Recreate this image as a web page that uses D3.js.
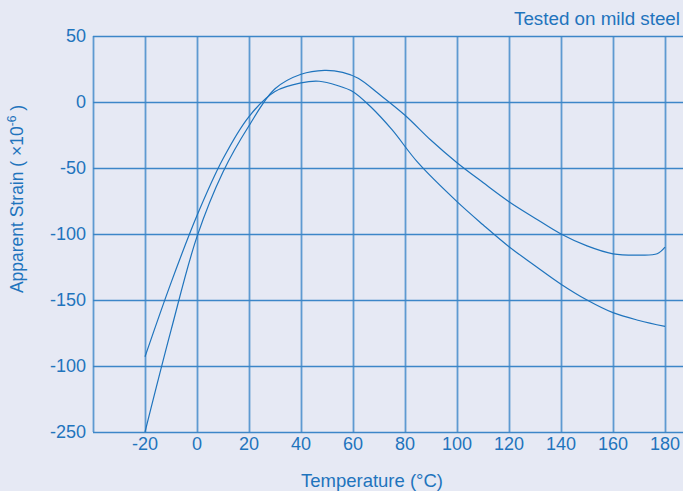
<!DOCTYPE html>
<meta charset="utf-8">
<style>
html, body { margin: 0; padding: 0; background: #e6e9f4; }
svg { display: block; font-family: "Liberation Sans", Arial, sans-serif; }
</style>
<svg width="683" height="491"></svg>
<script src="https://d3js.org/d3.v7.min.js"></script>
<script>
// values
var xTicks = [-20, 0, 20, 40, 60, 80, 100, 120, 140, 160, 180]
var yTicks = [50, 0, -50, -100, -150, -200, -250]
// the original prints "-100" twice, keep it
var yTickLabels = ["50", "0", "-50", "-100", "-150", "-100", "-250"]

var curveATemp   = [-20, -10, 0, 10, 20, 30, 40, 47, 54, 60, 67, 75, 85, 100, 110, 120, 130, 140, 150, 160, 170, 180]
var curveAStrain = [-193, -137, -86, -43, -11, 8, 14.5, 15.7, 12.5, 7.8, -4, -21, -46, -75.5, -93, -109.6, -124, -138, -150, -159.6, -165.5, -170]

var curveBTemp   = [-20, -10, 0, 10, 20, 30, 40, 49, 56, 62, 70, 80, 90, 100, 110, 120, 130, 140, 150, 160, 170, 177, 180]
var curveBStrain = [-250, -173, -102, -53, -18, 10, 21, 24, 22.5, 18, 6, -10, -29, -46, -61, -75.5, -88, -100, -109, -115, -116, -115, -110]

var color = "#1f74bd"
var gridColor = "#3c86c8"

var svg = d3.select("svg")

var x = d3.scaleLinear().domain([-40, 180]).range([93, 665])
var y = d3.scaleLinear().domain([-250, 50]).range([432, 36])

// grid
svg.append("g")
  .selectAll("line")
  .data(yTicks)
  .enter().append("line")
    .attr("x1", 93).attr("x2", 683)
    .attr("y1", function (d) { return Math.round(y(d)) + 0.5 })
    .attr("y2", function (d) { return Math.round(y(d)) + 0.5 })
    .attr("stroke", gridColor)
    .attr("stroke-width", 1.4)

svg.append("g")
  .selectAll("line")
  .data(xTicks)
  .enter().append("line")
    .attr("x1", function (d) { return Math.round(x(d)) + 0.5 })
    .attr("x2", function (d) { return Math.round(x(d)) + 0.5 })
    .attr("y1", 36).attr("y2", 432)
    .attr("stroke", gridColor)
    .attr("stroke-opacity", 0.8)
    .attr("stroke-width", 1.8)

// left border
svg.append("line")
  .attr("x1", 93.5).attr("x2", 93.5)
  .attr("y1", 36).attr("y2", 432)
  .attr("stroke", gridColor)
  .attr("stroke-opacity", 0.8)
  .attr("stroke-width", 1.8)

// tick labels
svg.append("g")
  .selectAll("text")
  .data(yTicks)
  .enter().append("text")
    .attr("x", 86)
    .attr("y", function (d) { return y(d) + 6 })
    .attr("text-anchor", "end")
    .attr("font-size", 18)
    .attr("fill", color)
    .text(function (d, i) { return yTickLabels[i] })

svg.append("g")
  .selectAll("text")
  .data(xTicks)
  .enter().append("text")
    .attr("x", function (d) { return x(d) })
    .attr("y", 450)
    .attr("text-anchor", "middle")
    .attr("font-size", 18)
    .attr("fill", color)
    .text(function (d) { return d })

// titles
svg.append("text")
  .attr("x", 372).attr("y", 487)
  .attr("text-anchor", "middle")
  .attr("font-size", 18.5)
  .attr("fill", color)
  .text("Temperature (°C)")

svg.append("text")
  .attr("x", 680).attr("y", 25)
  .attr("text-anchor", "end")
  .attr("font-size", 18.8)
  .attr("fill", color)
  .text("Tested on mild steel")

var yTitle = svg.append("text")
  .attr("transform", "translate(23,199) rotate(-90)")
  .attr("text-anchor", "middle")
  .attr("font-size", 17.5)
  .attr("fill", color)
yTitle.append("tspan").text("Apparent Strain ( ×10")
yTitle.append("tspan").attr("dy", -7).attr("font-size", 12).text("-6")
yTitle.append("tspan").attr("dy", 7).text(" )")

// curves
var line = d3.line()
  .x(function (d) { return x(d[0]) })
  .y(function (d) { return y(d[1]) })
  .curve(d3.curveCatmullRom.alpha(0.5))

var curveA = d3.zip(curveATemp, curveAStrain)
var curveB = d3.zip(curveBTemp, curveBStrain)

svg.append("g")
  .selectAll("path")
  .data([curveA, curveB])
  .enter().append("path")
    .attr("d", line)
    .attr("fill", "none")
    .attr("stroke", color)
    .attr("stroke-width", 1.2)
</script>
